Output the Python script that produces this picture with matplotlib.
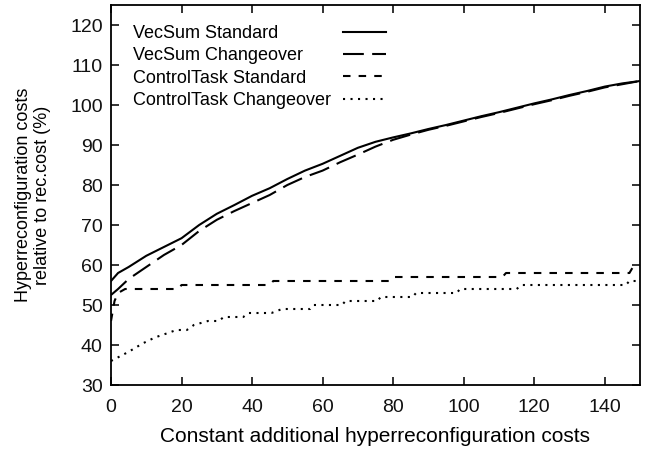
import numpy as np
import matplotlib
matplotlib.use("Agg")
import matplotlib.pyplot as plt

plt.rcParams['font.family'] = ['Liberation Sans', 'DejaVu Sans']

# ---- values ----
vec_x = [0, 2, 5, 10, 15, 20, 25, 30, 35, 40, 45, 50, 55, 60, 65, 70, 75,
         80, 85, 90, 95, 100, 105, 110, 115, 120, 125, 130, 135, 140, 145, 150]
vec_std = [56, 58, 59.5, 62.3, 64.5, 66.7, 70, 72.8, 75, 77.3, 79.2, 81.5,
           83.6, 85.3, 87.3, 89.3, 90.8, 91.9, 92.9, 94, 95, 96.1, 97.2, 98.2,
           99.3, 100.4, 101.4, 102.5, 103.5, 104.6, 105.4, 106]
vec_chg = [52.5, 54, 56.5, 59.5, 62.5, 65, 68.5, 71.3, 73.5, 75.5, 77.5, 80,
           82, 83.6, 85.7, 87.6, 89.6, 91.3, 92.6, 93.8, 94.8, 95.9, 97, 98,
           99.1, 100.2, 101.2, 102.3, 103.3, 104.4, 105.2, 106]

ct_std_x = [0, 1, 2, 4, 19, 20, 45, 46, 79, 80, 111, 112, 147, 148, 150]
ct_std = [46, 51, 53, 54, 54, 55, 55, 56, 56, 57, 57, 58, 58, 59.5, 59.5]

ct_chg_x = [0, 5, 9, 12.5, 16.5, 18.5, 21.5, 23.5, 27.5, 30.5, 32, 37.5, 39,
            45.5, 48.5, 56.5, 57.5, 65.5, 66.5, 75.5, 76.5, 85.5, 86.5, 98,
            99, 115, 116.5, 146, 147, 150]
ct_chg = [36, 38.3, 40.4, 41.9, 43.1, 43.75, 43.75, 45, 46, 46, 47, 47, 48,
          48, 49, 49, 50, 50, 51, 51, 52, 52, 53, 53, 54, 54, 55, 55, 56, 56]

labels = ['VecSum Standard', 'VecSum Changeover',
          'ControlTask Standard', 'ControlTask Changeover']

# ---- plotting ----
fig = plt.figure(figsize=(6.48, 4.51), dpi=100)
ax = fig.add_axes([111 / 648, 1 - 385 / 451, 529 / 648, 380 / 451])

lw = 1.5
ax.plot(vec_x, vec_std, color='black', lw=lw, label=labels[0])
ax.plot(vec_x, vec_chg, color='black', lw=lw, linestyle=(0, (10, 4)), label=labels[1])
ax.plot(ct_std_x, ct_std, color='black', lw=lw, linestyle=(0, (3.6, 3.9)), label=labels[2])
ax.plot(ct_chg_x, ct_chg, color='black', lw=lw, linestyle=(0, (1, 2.6)), label=labels[3])

ax.set_xlim(0, 150)
ax.set_ylim(30, 125)
ax.set_xticks(np.arange(0, 141, 20))
ax.set_yticks(np.arange(30, 121, 10))
ax.tick_params(direction='in', length=6, width=1.2, top=True, right=True,
               labelsize=14, pad=6, colors='#111111')
ax.tick_params(axis='x', pad=10)
for s in ax.spines.values():
    s.set_linewidth(1.3)

ax.set_xlabel('Constant additional hyperreconfiguration costs', fontsize=15, labelpad=8)
ax.set_ylabel('Hyperreconfiguration costs\nrelative to rec.cost (%)', fontsize=13,
              labelpad=14, linespacing=1.15)

# gnuplot-style key: text left-aligned, line sample on the right
leg = ax.legend(loc='upper left', frameon=False, markerfirst=False, fontsize=13,
                handlelength=2.4, handletextpad=0.67, labelspacing=0.29,
                bbox_to_anchor=(0.0416, 0.947), borderaxespad=0, borderpad=0)
fig.canvas.draw()
renderer = fig.canvas.get_renderer()
px_per_pt = renderer.points_to_pixels(1.0)
widths = [t.get_window_extent(renderer).width for t in leg.get_texts()]
rows = leg._legend_handle_box.get_children()[0].get_children()
base = rows[0].sep
for row, w in zip(rows, widths):
    row.sep = base + (max(widths) - w) / px_per_pt

fig.savefig('out.png', dpi=100)
